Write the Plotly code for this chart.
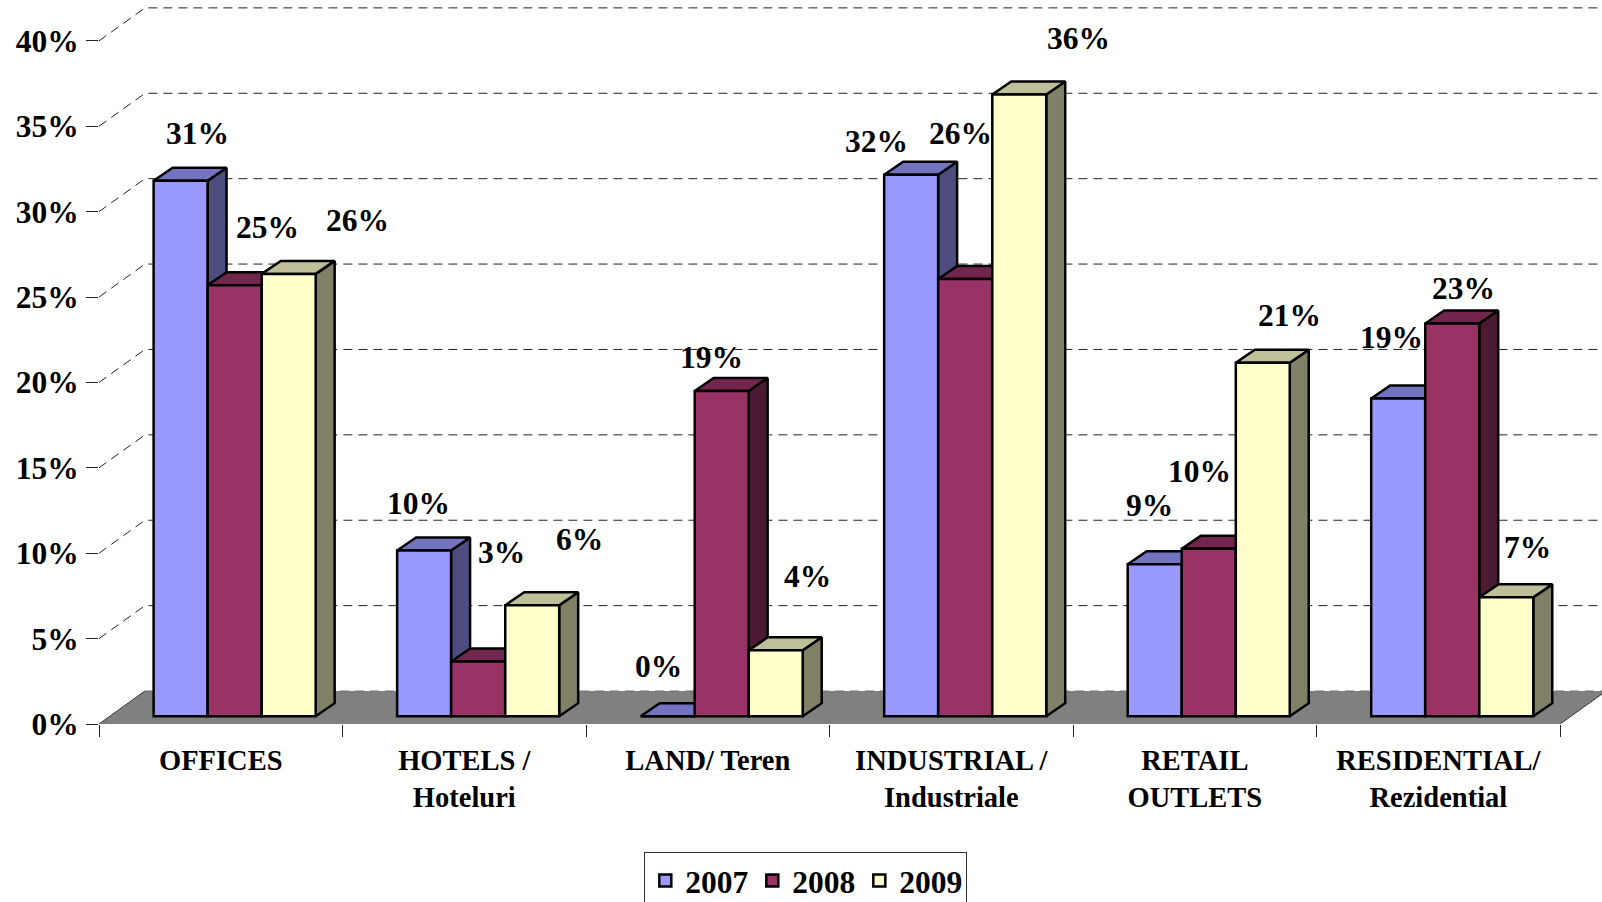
import plotly.graph_objects as go

# ---- data -------------------------------------------------------------
categories = ["OFFICES", "HOTELS /<br>Hoteluri", "LAND/ Teren",
              "INDUSTRIAL /<br>Industriale", "RETAIL<br>OUTLETS",
              "RESIDENTIAL/<br>Rezidential"]
years = ["2007", "2008", "2009"]
values_2007 = [31.35, 9.7, 0.0, 31.7, 8.9, 18.6]
values_2008 = [25.24, 3.2, 19.04, 25.6, 9.8, 23.0]
values_2009 = [25.9, 6.5, 3.86, 36.4, 20.7, 6.96]
labels_2007 = ["31%", "10%", "0%", "32%", "9%", "19%"]
labels_2008 = ["25%", "3%", "19%", "26%", "10%", "23%"]
labels_2009 = ["26%", "6%", "4%", "36%", "21%", "7%"]
y_ticks = [0, 5, 10, 15, 20, 25, 30, 35, 40]

# ---- style / layout ----------------------------------------------------
FONT = "Liberation Serif"
FS = 31.5
FS_CAT = 28.5
W, H = 1602, 902
LEFT, AXIS_Y = 98.5, 724.5
CAT_PX = 243.6
VAL_PX = 17.09
XMAX = (W - LEFT) / CAT_PX
YMAX = AXIS_Y / VAL_PX

WALL_DX, WALL_DY = 46 / CAT_PX, 33 / VAL_PX     # depth of the floor
BAR_DX, BAR_DY = 19 / CAT_PX, 13 / VAL_PX       # depth of one bar
BASE = 7.8 / VAL_PX
BAR_W = 0.2215
OFFS = [0.335, 0.557, 0.779]

front = ["#9999FF", "#993366", "#FFFFCC"]
top = ["#7373BF", "#73264D", "#BFBF99"]
side = ["#4D4D80", "#4D1A33", "#808066"]

series = [values_2007, values_2008, values_2009]
texts = [labels_2007, labels_2008, labels_2009]

# label offsets from the bar's top-front centre, in pixels (x, up)
label_off = [
    [(17, 46), (-5, 46), (-9, 49), (-34, 33), (-5, 57), (-7, 60)],
    [(32, 56), (23, 107), (-10, 33), (-5, 142), (-9, 76), (11, 34)],
    [(67, 52), (46, 64), (31, 72), (58, 55), (26, 46), (21, 49)],
]

fig = go.Figure()

# floor
fig.add_trace(go.Scatter(
    x=[0, 6, 6 + WALL_DX, WALL_DX, 0], y=[0, 0, WALL_DY, WALL_DY, 0],
    mode="lines", fill="toself", fillcolor="#808080", line=dict(width=0),
    showlegend=False, hoverinfo="skip"))
# floor side edges
fig.add_trace(go.Scatter(
    x=[0, WALL_DX, None, 6, 6 + WALL_DX], y=[0, WALL_DY, None, 0, WALL_DY],
    mode="lines", line=dict(color="#333333", width=1),
    showlegend=False, hoverinfo="skip"))
# wall gridlines
gx, gy = [], []
for v in y_ticks:
    if v > 0:
        gx += [0, WALL_DX, XMAX, None]
        gy += [v, v + WALL_DY, v + WALL_DY, None]
fig.add_trace(go.Scatter(
    x=gx, y=gy, mode="lines",
    line=dict(color="#222222", width=1, dash="9px,6px"),
    showlegend=False, hoverinfo="skip"))
fig.add_trace(go.Scatter(
    x=[WALL_DX, XMAX], y=[WALL_DY, WALL_DY], mode="lines",
    line=dict(color="#6E6E6E", width=1, dash="9px,6px"),
    showlegend=False, hoverinfo="skip"))

z = 1
for s, vals in enumerate(series):
    sx, sy, tx, ty, cx = [], [], [], [], []
    for g, v in enumerate(vals):
        c = g + OFFS[s]
        cx.append(c)
        l, r = c - BAR_W / 2, c + BAR_W / 2
        t = BASE + v
        sx += [r, r + BAR_DX, r + BAR_DX, r, r, None]
        sy += [BASE, BASE + BAR_DY, t + BAR_DY, t, BASE, None]
        tx += [l, l + BAR_DX, r + BAR_DX, r, l, None]
        ty += [t, t + BAR_DY, t + BAR_DY, t, t, None]
    fig.add_trace(go.Scatter(
        x=sx, y=sy, mode="lines", fill="toself", fillcolor=side[s],
        line=dict(color="#000000", width=2.5), zorder=z,
        showlegend=False, hoverinfo="skip"))
    fig.add_trace(go.Scatter(
        x=tx, y=ty, mode="lines", fill="toself", fillcolor=top[s],
        line=dict(color="#000000", width=2.5), zorder=z,
        showlegend=False, hoverinfo="skip"))
    fig.add_trace(go.Bar(
        x=cx, y=vals, base=BASE, width=BAR_W, name=years[s],
        marker=dict(color=front[s], line=dict(color="#000000", width=2.5)),
        zorder=z + 1))
    z += 2
    for g, v in enumerate(vals):
        ox, oy = label_off[s][g]
        fig.add_annotation(
            x=cx[g], y=BASE + v, text=texts[s][g], showarrow=False,
            xanchor="center", yanchor="middle",
            xshift=ox * 1.0217, yshift=oy * 1.0217,
            font=dict(family=FONT, size=FS, color="#000000", weight="bold"))

font = dict(family=FONT, size=FS, color="#000000", weight="bold")
cat_font = dict(family=FONT, size=FS_CAT, color="#000000", weight="bold")
fig.update_layout(
    width=W, height=H, barmode="overlay",
    margin=dict(l=LEFT, r=0, t=0, b=H - AXIS_Y, pad=0, autoexpand=False),
    plot_bgcolor="#FFFFFF", paper_bgcolor="#FFFFFF",
    font=font,
    showlegend=True,
    legend=dict(
        orientation="h", xref="paper", yref="paper",
        x=(644 - LEFT) / (W - LEFT), y=(AXIS_Y - 853) / AXIS_Y,
        xanchor="left", yanchor="top",
        bgcolor="#FFFFFF", bordercolor="#333333", borderwidth=1,
        font=font, entrywidth=62, entrywidthmode="pixels",
        traceorder="normal"),
    xaxis=dict(
        range=[0, XMAX], showgrid=False, zeroline=False, fixedrange=True,
        showline=True, linecolor="#222222", linewidth=1,
        tickmode="array", tickvals=[g + 0.5 for g in range(6)],
        ticktext=categories, ticks="", ticklabelstandoff=11, tickangle=0,
        tickfont=cat_font,
        minor=dict(tickmode="array", tickvals=list(range(7)),
                   ticks="outside", ticklen=12, tickwidth=1,
                   tickcolor="#222222", showgrid=False)),
    yaxis=dict(
        range=[0, YMAX], showgrid=False, zeroline=False, fixedrange=True,
        showline=True, linecolor="#222222", linewidth=1,
        tickmode="array", tickvals=y_ticks,
        ticktext=[f"{v}%" for v in y_ticks],
        ticks="outside", ticklen=12, tickwidth=1, tickcolor="#222222",
        ticklabelstandoff=1, tickfont=font),
)

# the page's default 8px body margin would push the chart off its place
fig.write_html(
    "out.html",
    config={"displayModeBar": False},
    post_script="document.body.style.margin='0';"
                "document.documentElement.style.overflow='hidden';")
